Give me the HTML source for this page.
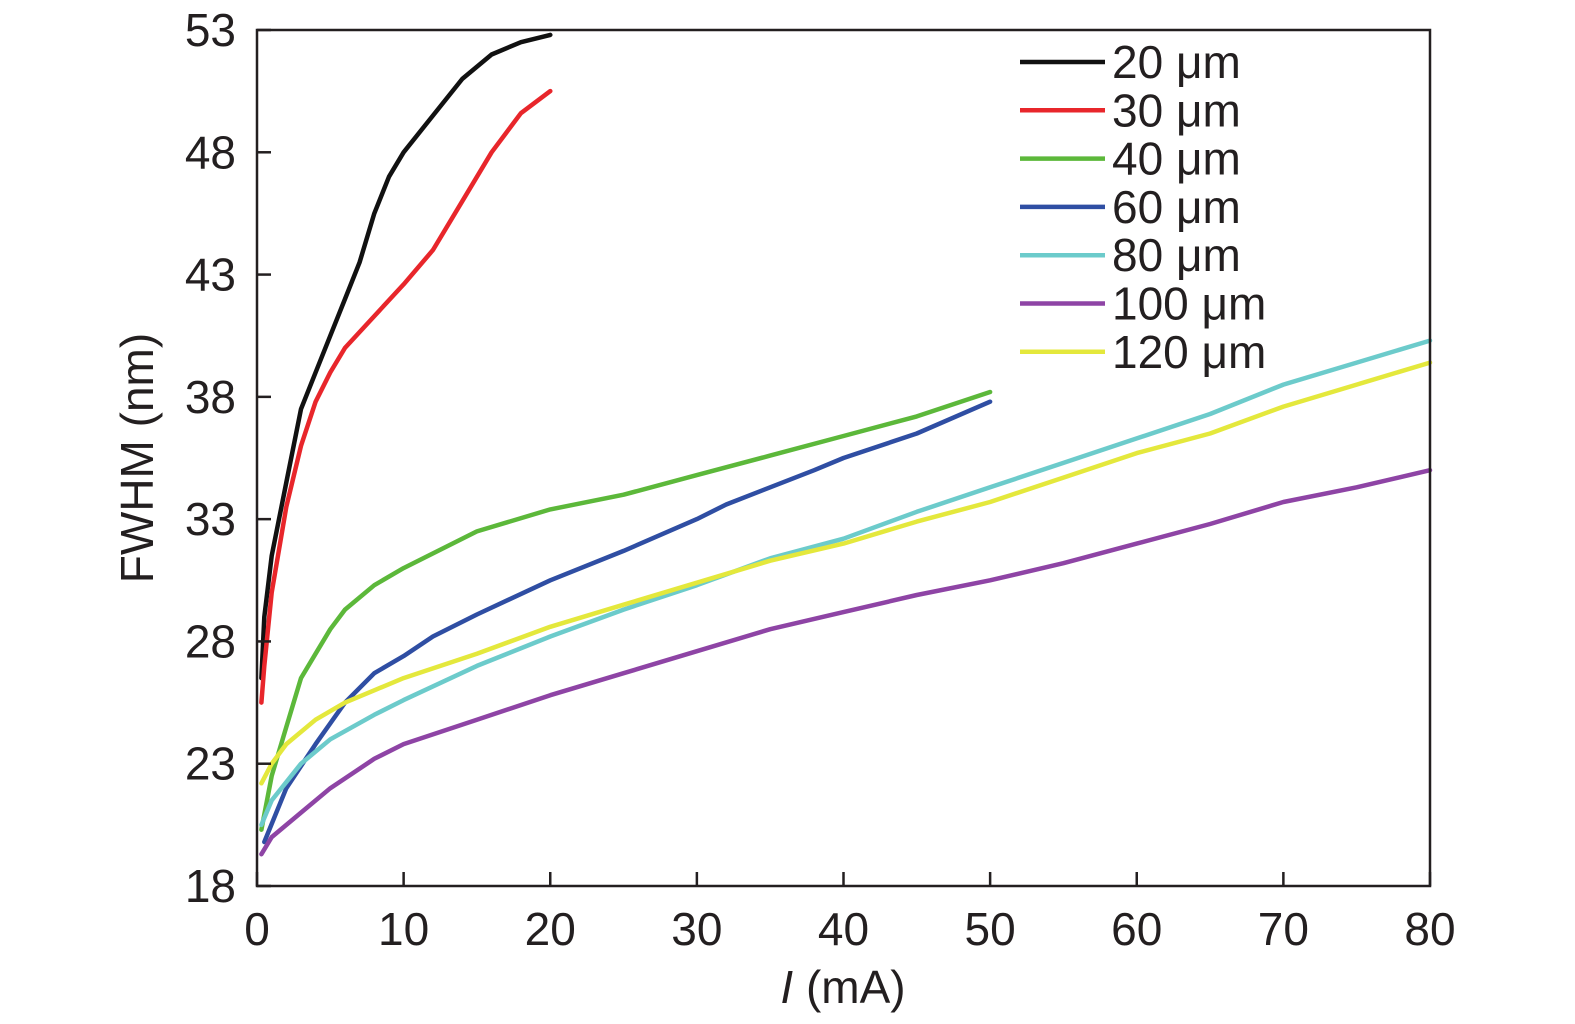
<!DOCTYPE html>
<html><head><meta charset="utf-8"><style>
body{margin:0;background:#fff;}
svg{display:block;font-family:"Liberation Sans",sans-serif;}
</style></head><body>
<svg id="chart" width="1575" height="1024" viewBox="0 0 1575 1024">
<rect x="0" y="0" width="1575" height="1024" fill="#fff"/>
<g id="series"></g>
<rect x="257" y="30" width="1173" height="856" fill="none" stroke="#231f20" stroke-width="2.5"/>
<g id="axes"></g>
<text x="153" y="458" font-size="46" fill="#231f20" text-anchor="middle" transform="rotate(-90 153 458)">FWHM (nm)</text>
<text x="843" y="1003" font-size="46" fill="#231f20" text-anchor="middle"><tspan font-style="italic">I</tspan> (mA)</text>
<g id="legend"></g>
</svg>
<script>
const xTicks=[0,10,20,30,40,50,60,70,80];
const yTicks=[18,23,28,33,38,43,48,53];
const seriesNames=["20 μm","30 μm","40 μm","60 μm","80 μm","100 μm","120 μm"];
const seriesColors=["#111111","#e8262b","#5cb83a","#2f4ea3","#6ccbcb","#8e44a5","#e4e83c"];
const s20x=[0.3,0.5,1,2,3,4,5,6,7,8,9,10,12,14,16,18,20];
const s20y=[26.5,29,31.5,34.5,37.5,39,40.5,42,43.5,45.5,47,48,49.5,51,52,52.5,52.8];
const s30x=[0.3,0.5,1,2,3,4,5,6,8,10,12,14,16,18,20];
const s30y=[25.5,27,30,33.5,36,37.8,39,40,41.3,42.6,44,46,48,49.6,50.5];
const s40x=[0.3,1,2,3,4,5,6,8,10,15,20,25,30,35,40,45,50];
const s40y=[20.3,22.5,24.5,26.5,27.5,28.5,29.3,30.3,31,32.5,33.4,34,34.8,35.6,36.4,37.2,38.2];
const s60x=[0.5,2,4,6,8,10,12,15,20,25,30,32,35,38,40,45,50];
const s60y=[19.8,22,23.8,25.5,26.7,27.4,28.2,29.1,30.5,31.7,33,33.6,34.3,35,35.5,36.5,37.8];
const s80x=[0.3,1,3,5,8,10,15,20,25,30,35,40,45,50,55,60,65,70,75,80];
const s80y=[20.5,21.5,23,24,25,25.6,27,28.2,29.3,30.3,31.4,32.2,33.3,34.3,35.3,36.3,37.3,38.5,39.4,40.3];
const s100x=[0.3,1,3,5,8,10,15,20,25,30,35,40,45,50,55,60,65,70,75,80];
const s100y=[19.3,20,21,22,23.2,23.8,24.8,25.8,26.7,27.6,28.5,29.2,29.9,30.5,31.2,32,32.8,33.7,34.3,35];
const s120x=[0.3,1,2,4,6,8,10,15,20,25,30,35,40,45,50,55,60,65,70,75,80];
const s120y=[22.2,23,23.8,24.8,25.5,26,26.5,27.5,28.6,29.5,30.4,31.3,32,32.9,33.7,34.7,35.7,36.5,37.6,38.5,39.4];
const allX=[s20x,s30x,s40x,s60x,s80x,s100x,s120x];
const allY=[s20y,s30y,s40y,s60y,s80y,s100y,s120y];

const NS="http://www.w3.org/2000/svg";
const X0=257,X1=1430,Y0=886,Y1=30;
const sx=v=>X0+(v-0)/(80-0)*(X1-X0);
const sy=v=>Y0-(v-18)/(53-18)*(Y0-Y1);
function mk(t,a,p){const e=document.createElementNS(NS,t);for(const k in a)e.setAttribute(k,a[k]);p.appendChild(e);return e;}
const axes=document.getElementById('axes');
xTicks.forEach(v=>{
  const l=mk('line',{x1:sx(v),x2:sx(v),y1:Y0,y2:Y0-14,stroke:'#231f20','stroke-width':2.5},axes);
  
  
  const t=mk('text',{x:sx(v),y:945,'font-size':46,fill:'#231f20','text-anchor':'middle'},axes);
  t.textContent=v;
  
  
});
yTicks.forEach(v=>{
  const l=mk('line',{x1:X0,x2:X0+14,y1:sy(v),y2:sy(v),stroke:'#231f20','stroke-width':2.5},axes);
  
  
  const t=mk('text',{x:236,y:sy(v)+16,'font-size':46,fill:'#231f20','text-anchor':'end'},axes);
  t.textContent=v;
  
  
});
const sg=document.getElementById('series');
allX.forEach((xs,i)=>{
  const d=xs.map((x,j)=>(j?'L':'M')+sx(x).toFixed(1)+','+sy(allY[i][j]).toFixed(1)).join('');
  const p=mk('path',{d:d,fill:'none',stroke:seriesColors[i],'stroke-width':4.5,'stroke-linejoin':'round','stroke-linecap':'round'},sg);
  
  
});
const lg=document.getElementById('legend');
seriesNames.forEach((n,i)=>{
  const y=62+i*48.3;
  const l=mk('line',{x1:1020,x2:1105,y1:y,y2:y,stroke:seriesColors[i],'stroke-width':4.5},lg);
  
  
  const t=mk('text',{x:1112,y:y+16,'font-size':46,fill:'#231f20'},lg);
  t.textContent=n;
  
  
});
</script>
</body></html>
